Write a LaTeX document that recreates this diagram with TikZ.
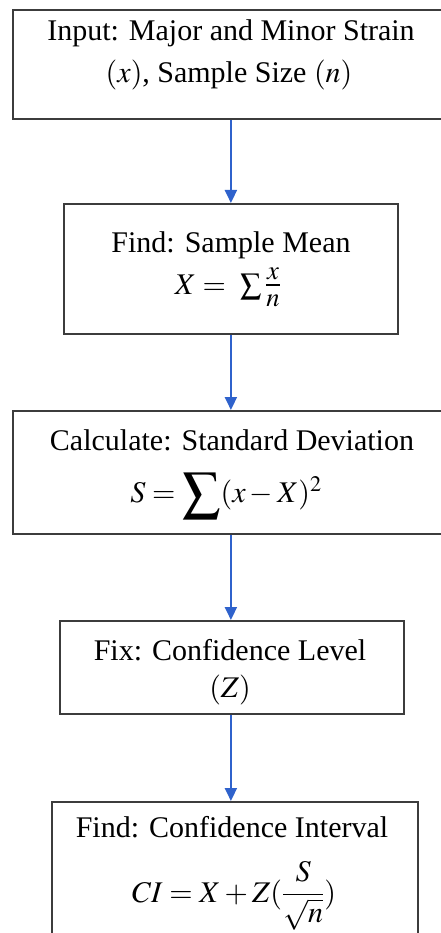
\documentclass[tikz,border=0pt]{standalone}
\usepackage{amsmath}
\usepackage{graphicx}
\usepackage{mathptmx}
\usepackage{fontspec}
\setmainfont{Liberation Serif}
\usetikzlibrary{arrows.meta}
\definecolor{arrblue}{RGB}{47,98,204}
\definecolor{boxgray}{RGB}{60,60,60}
\tikzset{
  boxst/.style={draw=boxgray, line width=1.8pt, fill=white, inner sep=0pt, anchor=north west},
  txt/.style={anchor=base, inner sep=0pt, font=\fontsize{30}{36}\selectfont},
  arr/.style={draw=arrblue, line width=2pt, -{Triangle[length=13pt,width=12pt]}}
}
\begin{document}
\begin{tikzpicture}[x=1pt,y=-1pt]
\useasboundingbox (0,0) rectangle (440,933);
\fill[white] (0,0) rectangle (440,933);
% boxes
\node[boxst, minimum width=433pt, minimum height=109pt] (b1) at (12,9) {};
\node[boxst, minimum width=334pt, minimum height=130pt] (b2) at (63,203) {};
\node[boxst, minimum width=433pt, minimum height=123pt] (b3) at (12,410) {};
\node[boxst, minimum width=344pt, minimum height=93pt] (b4) at (59,620) {};
\node[boxst, minimum width=366pt, minimum height=140pt] (b5) at (51,801) {};
% texts
\node[txt] (t1a) at (231,41) {Input: Major and Minor Strain};
\node[txt] (t1b) at (229,83) {$(x)$, Sample Size $(n)$};
\node[txt] (t2a) at (231,252) {Find: Sample Mean};
\node[txt] (t2b) at (228,294) {$X =\ \textstyle\sum\scalebox{1.2}{$\frac{x}{n}$}$};
\node[txt] (t3a) at (232,450) {Calculate: Standard Deviation};
\node[txt] (t3b) at (226,502) {$S = \raisebox{-3pt}{\scalebox{1.25}{$\displaystyle\sum$}}(x - X)^2$};
\node[txt] (t4a) at (230,660) {Fix: Confidence Level};
\node[txt] (t4b) at (230,697) {$(Z)$};
\node[txt] (t5a) at (232,837) {Find: Confidence Interval};
\node[txt] (t5b) at (234,902) {$CI = X + Z(\dfrac{S}{\sqrt{n}})$};
% connectors
\draw[arr] (b1.south -| b2.north) -- (b2.north);
\draw[arr] (b2.south) -- (b2.south |- b3.north);
\draw[arr] (b3.south -| b2.south) -- (b4.north -| b2.south);
\draw[arr] (b4.south -| b2.south) -- (b5.north -| b2.south);
\end{tikzpicture}
\end{document}
